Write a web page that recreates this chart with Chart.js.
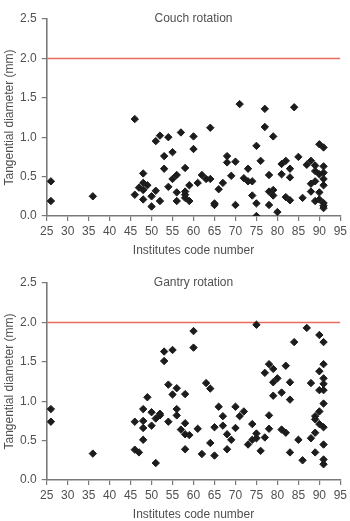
<!DOCTYPE html>
<html>
<head>
<meta charset="utf-8">
<script src="https://cdn.jsdelivr.net/npm/chart.js@4"></script>
<style>
  html, body { margin: 0; padding: 0; background: #fff; width: 350px; height: 521px; overflow: hidden; }
  .box { position: absolute; left: 0; width: 350px; height: 258px; }
  #b1 { top: 0; }
  #b2 { top: 264px; }
</style>
</head>
<body>
<div class="box" id="b1"><canvas id="c1" width="350" height="258"></canvas></div>
<div class="box" id="b2"><canvas id="c2" width="350" height="258"></canvas></div>
<script>
const chartTitles = ["Couch rotation", "Gantry rotation"];
const xAxisTitle = "Institutes code number";
const yAxisTitle = "Tangential diameter (mm)";
const xTicks = [25, 30, 35, 40, 45, 50, 55, 60, 65, 70, 75, 80, 85, 90, 95];
const yTicks = [0.0, 0.5, 1.0, 1.5, 2.0, 2.5];
const limitValue = 2.0;

const couchCodes = [26, 26, 36, 46, 46, 47, 48, 48, 48, 48, 49, 50, 50, 51, 51, 52, 52, 53, 53, 54, 54, 55, 55, 56, 56, 56, 57, 58, 58, 58, 58, 59, 59, 60, 60, 61, 62, 63, 64, 64, 65, 65, 66, 67, 68, 68, 69, 71, 70, 70, 72, 73, 73, 74, 74, 75, 75, 75, 76, 77, 77, 78, 78, 78, 79, 79, 79, 80, 81, 81, 82, 82, 83, 83, 83, 84, 85, 86, 87, 88, 88, 88, 89, 89, 89, 89, 90, 90, 90, 90, 91, 91, 91, 91, 91, 91, 91, 91];
const couchValues = [0.44, 0.19, 0.25, 1.23, 0.27, 0.36, 0.54, 0.42, 0.33, 0.21, 0.39, 0.25, 0.12, 0.95, 0.32, 1.02, 0.19, 0.76, 0.60, 1.00, 0.37, 0.81, 0.47, 0.52, 0.30, 0.19, 1.06, 0.61, 0.31, 0.27, 0.23, 0.39, 0.19, 1.01, 0.85, 0.42, 0.52, 0.47, 1.12, 0.47, 0.16, 0.14, 0.34, 0.42, 0.76, 0.68, 0.51, 1.42, 0.69, 0.14, 0.48, 0.60, 0.44, 0.44, 0.26, 0.89, 0.16, 0.00, 0.70, 1.36, 1.13, 0.52, 0.31, 0.14, 1.01, 0.33, 0.26, 0.05, 0.66, 0.53, 0.70, 0.24, 0.60, 0.49, 0.20, 1.38, 0.75, 0.23, 0.65, 0.70, 0.41, 0.31, 0.64, 0.57, 0.44, 0.19, 0.91, 0.53, 0.30, 0.21, 0.87, 0.63, 0.55, 0.47, 0.39, 0.165, 0.13, 0.10];

const gantryCodes = [26, 26, 36, 46, 46, 47, 48, 48, 48, 48, 49, 50, 50, 51, 51, 52, 52, 53, 53, 54, 54, 55, 55, 56, 56, 56, 57, 58, 58, 58, 58, 59, 60, 60, 61, 62, 63, 64, 64, 65, 65, 66, 67, 67, 68, 68, 69, 70, 70, 71, 72, 73, 74, 74, 75, 75, 75, 76, 77, 77, 78, 78, 78, 79, 79, 79, 80, 81, 81, 82, 82, 83, 83, 83, 84, 85, 86, 87, 88, 88, 89, 89, 89, 89, 90, 90, 90, 90, 90, 91, 91, 91, 91, 91, 91, 91, 91, 91, 91];
const gantryValues = [0.90, 0.74, 0.335, 0.74, 0.385, 0.35, 0.90, 0.75, 0.66, 0.51, 1.05, 0.86, 0.69, 0.78, 0.215, 0.82, 0.84, 1.63, 1.51, 1.21, 0.74, 1.65, 1.085, 1.165, 0.90, 0.82, 0.64, 1.09, 0.72, 0.58, 0.39, 0.57, 1.89, 1.68, 0.65, 0.33, 1.23, 1.16, 0.47, 0.67, 0.31, 0.93, 0.81, 0.69, 0.58, 0.39, 0.51, 0.93, 0.66, 0.81, 0.87, 0.45, 0.71, 0.51, 1.97, 0.59, 0.53, 0.37, 1.36, 0.54, 1.47, 0.82, 0.65, 1.41, 1.24, 1.07, 1.29, 1.11, 0.64, 1.45, 0.60, 1.24, 1.02, 0.35, 1.75, 0.51, 0.25, 1.93, 1.23, 0.53, 0.81, 0.77, 0.60, 0.35, 1.84, 1.38, 1.14, 0.87, 0.71, 1.75, 1.47, 1.29, 1.22, 1.14, 0.97, 0.67, 0.45, 0.26, 0.20];

const FONT = "'Liberation Sans', Arial, sans-serif";
const AXIS_COLOR = '#7a7a7a';
const TEXT_COLOR = '#505050';

const innerTitle = {
  id: 'innerTitle',
  afterDraw(chart, args, opts) {
    const ctx = chart.ctx, a = chart.chartArea;
    ctx.save();
    ctx.font = '12px ' + FONT;
    ctx.fillStyle = TEXT_COLOR;
    ctx.textAlign = 'center';
    ctx.textBaseline = 'middle';
    ctx.fillText(opts.text, (a.left + a.right) / 2, a.top);
    ctx.restore();
  }
};

function makeChart(id, title, codes, values) {
  const pts = codes.map((c, i) => ({ x: c, y: values[i] }));
  const xMin = xTicks[0], xMax = xTicks[xTicks.length - 1];
  const limit = [{ x: xMin, y: limitValue }, { x: xMax, y: limitValue }];
  return new Chart(document.getElementById(id), {
    type: 'scatter',
    data: {
      datasets: [
        {
          type: 'line', data: limit, borderColor: '#ea6a5f', borderWidth: 1.5,
          pointRadius: 0, fill: false, order: 2
        },
        {
          data: pts, pointStyle: 'rectRot', pointRadius: 3.7,
          backgroundColor: '#1c1c1c', borderColor: '#1c1c1c', borderWidth: 1, order: 1
        }
      ]
    },
    options: {
      responsive: false, animation: false,
      layout: { padding: { left: 0, right: 9.3, top: 19, bottom: 0 } },
      plugins: { legend: { display: false }, tooltip: { enabled: false }, innerTitle: { text: title } },
      scales: {
        x: {
          type: 'linear', min: xMin, max: xMax,
          afterBuildTicks(s) { s.ticks = xTicks.map(v => ({ value: v })); },
          afterFit(s) { s.height = 42; },
          grid: { drawOnChartArea: false, drawTicks: true, tickLength: 5, color: AXIS_COLOR, lineWidth: 1.2 },
          border: { color: AXIS_COLOR, width: 1.6 },
          ticks: { color: TEXT_COLOR, font: { family: FONT, size: 12 }, padding: 3, maxRotation: 0, autoSkip: false },
          title: { display: true, text: xAxisTitle, color: TEXT_COLOR, font: { family: FONT, size: 12 }, padding: { top: 6, bottom: 0 } }
        },
        y: {
          type: 'linear', min: yTicks[0], max: yTicks[yTicks.length - 1],
          afterBuildTicks(s) { s.ticks = yTicks.map(v => ({ value: v })); },
          afterFit(s) { s.width = 46.7; },
          grid: { drawOnChartArea: false, drawTicks: true, tickLength: 5, color: AXIS_COLOR, lineWidth: 1.2 },
          border: { color: AXIS_COLOR, width: 1.6 },
          ticks: { color: TEXT_COLOR, font: { family: FONT, size: 12 }, padding: 5, callback: v => Number(v).toFixed(1) },
          title: { display: true, text: yAxisTitle, color: TEXT_COLOR, font: { family: FONT, size: 12 }, padding: { top: 2, bottom: 0 } }
        }
      }
    },
    plugins: [innerTitle]
  });
}

makeChart('c1', chartTitles[0], couchCodes, couchValues);
makeChart('c2', chartTitles[1], gantryCodes, gantryValues);
</script>
</body>
</html>
